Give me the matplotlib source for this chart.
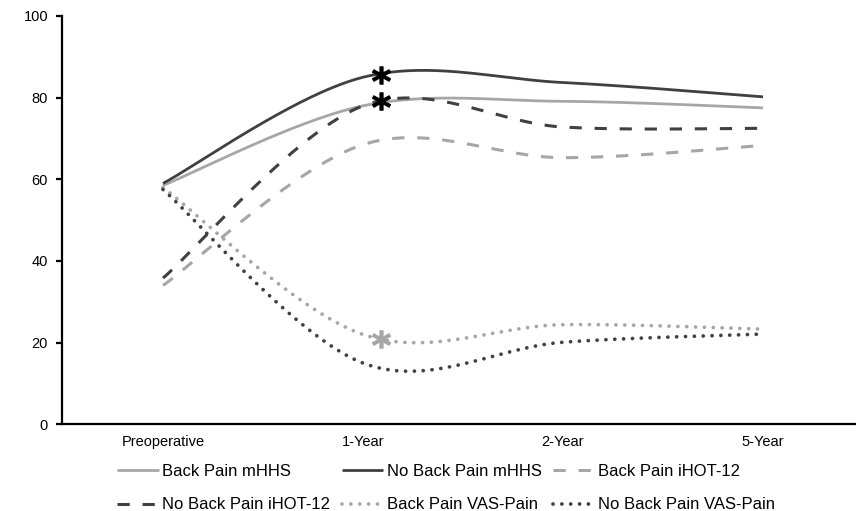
import numpy as np
from matplotlib import pyplot as plt

plt.rc('font', family=['Liberation Sans Narrow', 'Liberation Sans', 'DejaVu Sans'])

# categories on the x axis
timepoints = ["Preoperative", "1-Year", "2-Year", "5-Year"]

# mean scores per group
bp_mhhs = [58.5, 78.0, 79.1, 77.5]
nbp_mhhs = [59.0, 85.0, 83.7, 80.2]
bp_ihot = [34.0, 68.5, 65.3, 68.3]
nbp_ihot = [35.8, 78.0, 72.8, 72.5]
bp_vas = [58.0, 22.0, 24.4, 23.3]
nbp_vas = [57.5, 15.0, 20.1, 22.1]

# significance markers near the 1-Year point
star_x = [1.09, 1.09, 1.09]
star_y = [85.6, 79.3, 20.8]

LIGHT = '#a6a6a6'
DARK = '#404040'


def smooth(xs, ys, n=60):
    # Excel-like smoothed line: cubic bezier through each point (catmull-rom style)
    p = np.column_stack([xs, ys]).astype(float)
    pts = []
    for i in range(len(p) - 1):
        p0 = p[i - 1] if i > 0 else p[i]
        p1 = p[i]
        p2 = p[i + 1]
        p3 = p[i + 2] if i + 2 < len(p) else p[i + 1]
        c1 = p1 + (p2 - p0) / 6.
        c2 = p2 - (p3 - p1) / 6.
        t = np.linspace(0, 1, n)[:, None]
        seg = (1 - t) ** 3 * p1 + 3 * (1 - t) ** 2 * t * c1 + 3 * (1 - t) * t ** 2 * c2 + t ** 3 * p2
        pts.append(seg if i == 0 else seg[1:])
    pts = np.vstack(pts)
    return pts[:, 0], pts[:, 1]


series = [
    ("Back Pain mHHS", bp_mhhs, LIGHT, 'solid'),
    ("No Back Pain mHHS", nbp_mhhs, DARK, 'solid'),
    ("Back Pain iHOT-12", bp_ihot, LIGHT, 'dash'),
    ("No Back Pain iHOT-12", nbp_ihot, DARK, 'dash'),
    ("Back Pain VAS-Pain", bp_vas, LIGHT, 'dot'),
    ("No Back Pain VAS-Pain", nbp_vas, DARK, 'dot'),
]

fig = plt.figure(figsize=(8.56, 5.11), dpi=100)
ax = fig.add_axes([62 / 856, (511 - 424.3) / 511, (856 - 62) / 856, (424.3 - 16) / 511])

x = np.arange(len(timepoints))
handles = []
for label, vals, color, style in series:
    sx, sy = smooth(x, vals)
    if style == 'solid':
        h, = ax.plot(sx, sy, color=color, lw=2.0, label=label, solid_capstyle='butt')
    elif style == 'dash':
        h, = ax.plot(sx, sy, color=color, lw=2.2, label=label, dashes=(4, 4.2), dash_capstyle='butt')
    else:
        h, = ax.plot(sx, sy, color=color, lw=2.7, label=label, dashes=(0.01, 2.35), dash_capstyle='round')
    handles.append(h)

star_colors = ['black', 'black', LIGHT]
for sxx, syy, c in zip(star_x, star_y, star_colors):
    ax.plot(sxx, syy, marker=r'$\mathbf{*}$', markersize=13, markeredgewidth=0.8, color=c, zorder=5)

ax.set_xlim(-0.505, 3.465)
ax.set_ylim(0, 100)
ax.set_yticks(range(0, 101, 20))
ax.set_xticks(x)
ax.set_xticklabels(timepoints)

for s in ['top', 'right']:
    ax.spines[s].set_visible(False)
for s in ['left', 'bottom']:
    ax.spines[s].set_linewidth(1.6)
    ax.spines[s].set_color('black')

ax.tick_params(axis='y', direction='out', length=4, width=1.6, pad=6, labelsize=10.5)
for t in ax.get_yticklabels():
    t.set_fontfamily(['Liberation Sans', 'DejaVu Sans'])
ax.tick_params(axis='x', length=0, pad=8, labelsize=10.5)

# legend in row-major order like the original
order = [0, 3, 1, 4, 2, 5]
fig.legend([handles[i] for i in order], [series[i][0] for i in order],
           ncol=3, loc='upper left', bbox_to_anchor=(117 / 856, 1 - 464 / 511),
           frameon=False, fontsize=12, handlelength=2.5, handletextpad=0.2,
           columnspacing=0.7, labelspacing=1.1, borderpad=0, borderaxespad=0)

plt.savefig('out.png', dpi=100)
